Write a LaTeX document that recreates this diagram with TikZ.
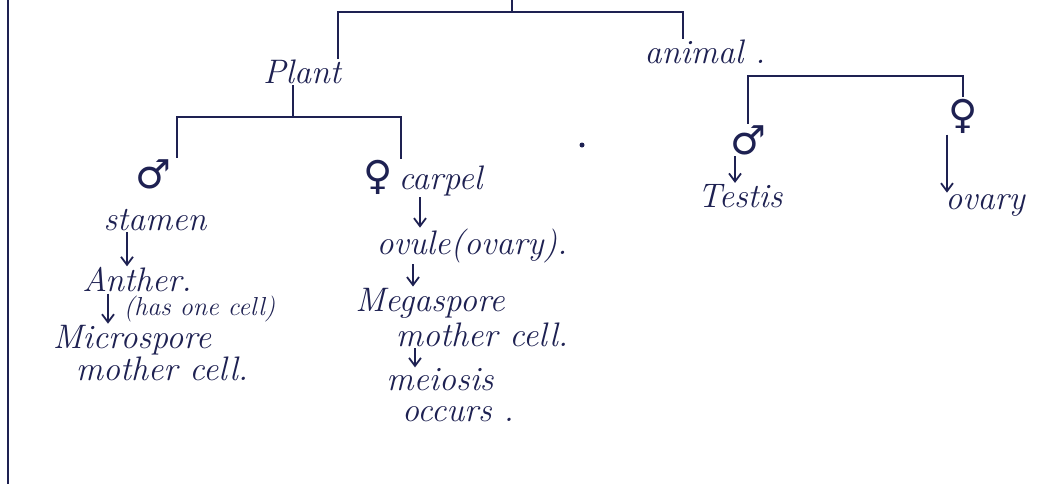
\documentclass[tikz,border=0pt]{standalone}
\usepackage{fontspec}
\newfontfamily\symfont{DejaVu Sans}
\usetikzlibrary{arrows.meta}
\definecolor{ink}{HTML}{1E2152}

\begin{document}
\begin{tikzpicture}[
  x=0.5pt, y=-0.5pt,
  font=\fontsize{17}{20}\selectfont\itshape,
  every node/.style={text=ink, inner sep=0.5pt},
  sign/.style={font=\fontsize{20}{22}\selectfont\symfont},
  small/.style={font=\fontsize{13}{15}\selectfont\itshape},
  bar/.style={draw=ink, line width=1.1pt},
  link/.style={draw=ink, line width=0.9pt, -{Straight Barb[length=4pt,width=6pt]}}
]
\fill[white] (0,0) rectangle (1040,484);
\useasboundingbox (0,0) rectangle (1040,484);
\draw[ink, line width=1pt] (8,0) -- (8,484);

% top level
\coordinate (root) at (512,0);
\node (plant)  at (302,72) {Plant};
\node (animal) at (705,52) {animal .};
\draw[bar] (root) -- ++(0,12) coordinate (rootj);
\draw[bar] ([xshift=18pt]plant.north) |- (rootj) -| ([xshift=-11pt]animal.north);

% plant side
\node[sign] (mplant) at (153,174) {♂};
\node (stamen)  at (155,220) {stamen};
\node (anther)  at (137,280) {Anther.};
\node (msp)     at (132,340) {Microspore};
\node (msp2)    at (162,369) {mother cell.};
\node (fplant)  at (423,178) {{\fontsize{20}{22}\selectfont\symfont ♀}\,carpel};
\node (ovule)   at (472,246) {ovule(ovary).};
\node (mega)    at (430,303) {Megaspore};
\node (mega2)   at (482,335) {mother cell.};
\node (meiosis) at (440,380) {meiosis};
\node (occurs)  at (458,414) {occurs .};

\draw[bar] ([xshift=-4.5pt]plant.south) -- ++(0,32) coordinate (plantj);
\draw[bar] ([xshift=12pt]mplant.north) |- (plantj) -| ([xshift=-11pt]fplant.north);

\draw[link] ([xshift=-14pt]stamen.south) -- ([xshift=-5pt]anther.north);
\draw[link] ([xshift=-14.5pt]anther.south) -- ([xshift=-12pt]msp.north)
  node[midway, right=7pt, small] (cellnote) {(has one cell)};
\draw[link] ([xshift=-1.5pt]fplant.south) -- ([xshift=-26pt]ovule.north);
\draw[link] ([xshift=-29.5pt]ovule.south) -- ([xshift=-8.5pt]mega.north);
\draw[link] ([xshift=-33.5pt]mega2.south) -- ([xshift=-12.5pt]meiosis.north);

% animal side
\node[sign] (manimal) at (748,140) {♂};
\node (testis)  at (740,196) {Testis};
\node[sign] (fanimal) at (963,116) {♀};
\node (ovary)   at (985,205) {ovary};
\coordinate (animalj) at (850,76);
\draw[bar] (manimal.north) |- (animalj) -| (fanimal.north);
\draw[link] ([xshift=-6.5pt]manimal.south) -- ([xshift=-2.5pt]testis.north);
\draw[link] ([xshift=-8pt]fanimal.south) -- ([xshift=-19pt]ovary.north);

\fill[ink] (582,145) circle (2.5);
\end{tikzpicture}
\end{document}
